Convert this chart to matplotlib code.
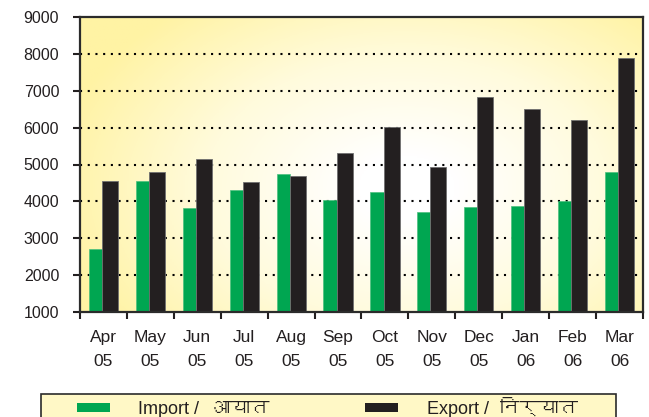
import numpy as np
import matplotlib
matplotlib.use('Agg')
import matplotlib.pyplot as plt
from matplotlib import font_manager
from matplotlib.colors import LinearSegmentedColormap
from matplotlib.patches import Rectangle
from matplotlib.ft2font import FT2Font

months = ['Apr', 'May', 'Jun', 'Jul', 'Aug', 'Sep', 'Oct', 'Nov', 'Dec', 'Jan', 'Feb', 'Mar']
years = ['05', '05', '05', '05', '05', '05', '05', '05', '05', '06', '06', '06']
imports = [2700, 4550, 3830, 4310, 4730, 4050, 4260, 3710, 3840, 3880, 4010, 4800]
exports = [4550, 4810, 5150, 4520, 4690, 5320, 6030, 4940, 6840, 6500, 6210, 7900]
yticks = [1000, 2000, 3000, 4000, 5000, 6000, 7000, 8000, 9000]
import_en, import_hi = 'Import /', 'आयात'
export_en, export_hi = 'Export /', 'निर्यात'

# find a font that has devanagari glyphs
deva = None
for f in font_manager.fontManager.ttflist:
    try:
        if 0x0906 in FT2Font(f.fname).get_charmap():
            deva = f.name
            break
    except Exception:
        pass
fams = ['Liberation Sans', 'DejaVu Sans']
hi_fams = fams
if deva:
    hi_fams = [deva, 'Liberation Sans', 'DejaVu Sans']
plt.rcParams['font.family'] = fams

green = '#00a651'
black = '#231f20'

fig = plt.figure(figsize=(6.49, 4.17), dpi=100)
ax = fig.add_axes([80/649, 105/417, 563/649, 295/417])

# yellow/white background
xx, yy = np.meshgrid(np.linspace(0, 1, 300), np.linspace(0, 1, 200))
r = np.sqrt(((xx - 0.58) / 0.72) ** 2 + ((yy - 0.42) / 0.9) ** 2)
cmap = LinearSegmentedColormap.from_list('bg', ['#ffffff', '#fffbdc', '#fff3a4'])
ax.imshow(r, cmap=cmap, extent=[0, 1, 0, 1], transform=ax.transAxes,
          aspect='auto', origin='lower', zorder=0, vmin=0.12, vmax=0.88)

x = np.arange(len(months))
ax.bar(x - 0.17, np.array(imports) - 1000, bottom=1000, width=0.28, color=green,
       edgecolor='#4cc07e', linewidth=0.5, zorder=3)
ax.bar(x + 0.14, np.array(exports) - 1000, bottom=1000, width=0.34, color=black,
       edgecolor='#707070', linewidth=0.6, zorder=4)

ax.set_xlim(-0.5, len(months) - 0.5)
ax.set_ylim(1000, 9000)
ax.set_yticks(yticks)
for v in yticks[1:-1]:
    ax.axhline(v, color='black', linestyle=(0, (1, 2.7)), linewidth=1.5, zorder=2)

ax.set_xticks(np.arange(-0.5, len(months), 1.0))
ax.set_xticklabels([])
ax.set_xticks(x, minor=True)
ax.set_xticklabels([m + '\n' + y for m, y in zip(months, years)], minor=True,
                   fontsize=12.5, linespacing=1.75, color='#231f20')
ax.tick_params(axis='x', which='minor', length=0, pad=13)
ax.tick_params(axis='x', which='major', length=5, width=1.5, direction='out', color='#231f20')
ax.tick_params(axis='y', length=5, width=1.5, direction='out', pad=10,
               labelsize=11.5, color='#231f20', labelcolor='#231f20')
for s in ax.spines.values():
    s.set_linewidth(1.6)
    s.set_color('#2b2b2b')
    s.set_zorder(5)

# legend box at the bottom (cut off by the figure edge)
W, H = 649.0, 417.0
fig.patches.append(Rectangle((41/W, -10/H), 575/W, 33/H, transform=fig.transFigure,
                             facecolor='#fff8c6', edgecolor='#2b2b2b', linewidth=1.2))
fig.patches.append(Rectangle((77/W, 5/H), 33/W, 9/H, transform=fig.transFigure,
                             facecolor=green, edgecolor='none'))
fig.patches.append(Rectangle((365/W, 5/H), 33/W, 9/H, transform=fig.transFigure,
                             facecolor=black, edgecolor='none'))
fig.text(138/W, 3/H, import_en, fontsize=13, va='baseline', color='#231f20')
fig.text(212/W, 3/H, import_hi, fontsize=14, va='baseline', color='#231f20',
         family=hi_fams, fontweight='bold')
fig.text(427/W, 3/H, export_en, fontsize=13, va='baseline', color='#231f20')
fig.text(500/W, 3/H, export_hi, fontsize=14, va='baseline', color='#231f20',
         family=hi_fams, fontweight='bold')

fig.savefig('out.png', dpi=100)
